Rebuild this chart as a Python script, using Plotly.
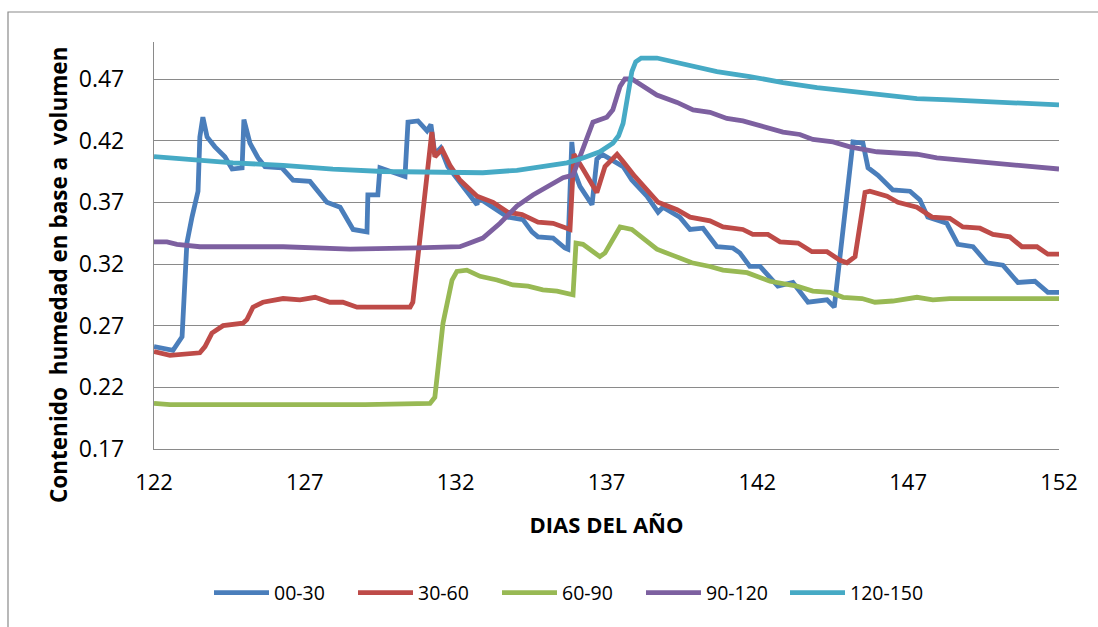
import plotly.graph_objects as go

# ---------------- data ----------------
x_0030 = [122.0, 122.63, 122.93, 123.09, 123.26, 123.46, 123.52, 123.62, 123.76, 124.02, 124.35, 124.59,
          124.92, 124.98, 125.18, 125.45, 125.68, 126.24, 126.61, 127.17, 127.73, 128.17, 128.60, 129.06,
          129.09, 129.42, 129.49, 130.32, 130.42, 130.75, 131.05, 131.18, 131.31, 131.50, 131.74, 132.14,
          132.71, 132.74, 133.24, 133.73, 134.23, 134.53, 134.73, 135.23, 135.62, 135.72, 135.85, 135.95,
          136.12, 136.52, 136.68, 136.85, 137.55, 137.84, 138.34, 138.71, 138.87, 139.43, 139.77, 140.20,
          140.66, 141.19, 141.42, 141.75, 142.09, 142.68, 143.18, 143.68, 144.31, 144.55, 145.17, 145.50,
          145.67, 146.00, 146.49, 147.06, 147.39, 147.65, 148.28, 148.65, 149.15, 149.61, 150.14, 150.64,
          151.20, 151.63, 152.0]
y_0030 = [0.253, 0.250, 0.261, 0.337, 0.358, 0.379, 0.423, 0.439, 0.423, 0.415, 0.407, 0.397,
          0.398, 0.437, 0.418, 0.406, 0.399, 0.398, 0.388, 0.387, 0.370, 0.366, 0.348, 0.346,
          0.376, 0.376, 0.398, 0.391, 0.435, 0.436, 0.428, 0.433, 0.409, 0.414, 0.399, 0.386,
          0.368, 0.374, 0.366, 0.358, 0.356, 0.346, 0.342, 0.341, 0.333, 0.332, 0.419, 0.394,
          0.383, 0.368, 0.405, 0.409, 0.399, 0.388, 0.375, 0.362, 0.366, 0.358, 0.348, 0.349,
          0.334, 0.333, 0.329, 0.318, 0.318, 0.302, 0.305, 0.289, 0.291, 0.285, 0.419, 0.418,
          0.398, 0.392, 0.380, 0.379, 0.372, 0.358, 0.353, 0.336, 0.334, 0.321, 0.319, 0.305,
          0.306, 0.297, 0.297]

x_3060 = [122.0, 122.53, 123.52, 123.69, 123.92, 124.29, 124.95, 125.08, 125.28, 125.61, 126.28, 126.84,
          127.34, 127.83, 128.26, 128.73, 129.59, 130.49, 130.58, 130.82, 131.05, 131.21, 131.31, 131.55,
          131.81, 132.14, 132.71, 133.24, 133.73, 134.20, 134.73, 135.23, 135.79, 135.92, 136.22, 136.68,
          136.95, 137.35, 137.55, 137.94, 138.71, 139.34, 139.77, 140.43, 140.86, 141.52, 141.85, 142.35,
          142.75, 143.35, 143.81, 144.31, 144.74, 144.97, 145.24, 145.57, 145.73, 146.30, 146.66, 147.29,
          147.79, 148.38, 148.81, 149.38, 149.81, 150.37, 150.77, 151.27, 151.63, 152.0]
y_3060 = [0.249, 0.246, 0.248, 0.253, 0.264, 0.270, 0.272, 0.275, 0.285, 0.289, 0.292, 0.291,
          0.293, 0.289, 0.289, 0.285, 0.285, 0.285, 0.289, 0.340, 0.388, 0.427, 0.407, 0.413,
          0.400, 0.388, 0.375, 0.370, 0.362, 0.360, 0.354, 0.353, 0.348, 0.409, 0.397, 0.378,
          0.399, 0.409, 0.403, 0.391, 0.370, 0.364, 0.358, 0.355, 0.350, 0.348, 0.344, 0.344,
          0.338, 0.337, 0.330, 0.330, 0.323, 0.321, 0.326, 0.378, 0.379, 0.375, 0.370, 0.366,
          0.358, 0.357, 0.350, 0.349, 0.344, 0.342, 0.334, 0.334, 0.328, 0.328]

x_6090 = [122.0, 122.53, 123.5, 125.0, 127.0, 129.0, 131.15, 131.31, 131.58, 131.88, 132.04, 132.37,
          132.81, 133.37, 133.90, 134.40, 134.89, 135.36, 135.89, 135.99, 136.22, 136.78, 136.95, 137.45,
          137.84, 138.67, 139.20, 139.83, 140.43, 140.86, 141.66, 142.42, 143.31, 143.84, 144.41, 144.84,
          145.47, 145.90, 146.49, 147.29, 147.82, 148.38, 152.0]
y_6090 = [0.207, 0.206, 0.206, 0.206, 0.206, 0.206, 0.207, 0.212, 0.272, 0.307, 0.314, 0.315,
          0.310, 0.307, 0.303, 0.302, 0.299, 0.298, 0.295, 0.337, 0.336, 0.326, 0.329, 0.350,
          0.348, 0.332, 0.327, 0.321, 0.318, 0.315, 0.313, 0.306, 0.302, 0.298, 0.297, 0.293,
          0.292, 0.289, 0.290, 0.293, 0.291, 0.292, 0.292]

x_90120 = [122.0, 122.43, 122.76, 123.52, 126.28, 128.50, 130.72, 132.14, 132.47, 132.90, 133.47, 134.03,
           134.56, 135.13, 135.56, 135.89, 136.05, 136.35, 136.55, 137.01, 137.21, 137.45, 137.61, 137.84,
           138.21, 138.67, 139.34, 139.87, 140.43, 140.99, 141.52, 142.32, 142.85, 143.41, 143.84, 144.51,
           145.07, 145.96, 146.49, 147.29, 147.95, 148.81, 149.71, 150.47, 151.13, 152.0]
y_90120 = [0.338, 0.338, 0.336, 0.334, 0.334, 0.332, 0.333, 0.334, 0.337, 0.341, 0.353, 0.367,
           0.376, 0.384, 0.390, 0.392, 0.402, 0.423, 0.435, 0.439, 0.445, 0.464, 0.470, 0.470,
           0.464, 0.457, 0.451, 0.445, 0.443, 0.438, 0.436, 0.431, 0.427, 0.425, 0.421, 0.419,
           0.415, 0.411, 0.410, 0.409, 0.406, 0.404, 0.402, 0.400, 0.399, 0.397]

x_120150 = [122.0, 122.96, 124.62, 126.28, 127.93, 129.59, 132.14, 132.90, 134.03, 134.89, 135.69, 136.22,
            136.78, 137.21, 137.40, 137.55, 137.65, 137.74, 137.84, 137.97, 138.15, 138.67, 139.53, 140.66,
            141.75, 142.85, 143.98, 145.07, 146.16, 147.29, 148.38, 149.48, 150.60, 152.0]
y_120150 = [0.407, 0.405, 0.402, 0.400, 0.397, 0.395, 0.394, 0.394, 0.396, 0.399, 0.402, 0.406,
            0.411, 0.418, 0.424, 0.434, 0.448, 0.463, 0.476, 0.484, 0.487, 0.487, 0.482, 0.476,
            0.472, 0.467, 0.463, 0.460, 0.457, 0.454, 0.453, 0.452, 0.451, 0.449]

series_names = ["00-30", "30-60", "60-90", "90-120", "120-150"]
series_x = [x_0030, x_3060, x_6090, x_90120, x_120150]
series_y = [y_0030, y_3060, y_6090, y_90120, y_120150]
colors = ["#4A7EBB", "#BE4B48", "#98B954", "#7D60A0", "#46AAC5"]

x_ticks = [122, 127, 132, 137, 142, 147, 152]
y_ticks = [0.17, 0.22, 0.27, 0.32, 0.37, 0.42, 0.47]
y_tick_text = ["0.17", "0.22", "0.27", "0.32", "0.37", "0.42", "0.47"]

# ---------------- figure ----------------
W, H = 1098, 627
FONT = "Open Sans"
GRID = "#8A8A8A"

fig = go.Figure()
for name, xs, ys, c in zip(series_names, series_x, series_y, colors):
    fig.add_trace(go.Scatter(x=xs, y=ys, mode="lines", name=name,
                             line=dict(color=c, width=4.8)))

fig.update_layout(
    width=W, height=H,
    margin=dict(l=0, r=0, t=0, b=0, autoexpand=False),
    paper_bgcolor="white", plot_bgcolor="white",
    font=dict(family=FONT, color="black"),
    showlegend=True,
    legend=dict(orientation="h", x=209 / W, xanchor="left", y=(H - 593) / H, yanchor="middle",
                font=dict(size=19.5, family=FONT, color="black"),
                entrywidth=74, entrywidthmode="pixels", itemwidth=55,
                bgcolor="rgba(0,0,0,0)", traceorder="normal"),
    xaxis=dict(domain=[154 / W, 1059 / W], range=[122, 152], tickmode="array", tickvals=x_ticks,
               automargin=False,
               showgrid=False, zeroline=False, showline=True, linecolor=GRID, linewidth=1.3,
               ticks="", ticklabelstandoff=13, tickfont=dict(size=22, family=FONT),
               title=dict(text="<b>DIAS DEL AÑO</b>", font=dict(size=22, family=FONT), standoff=23)),
    yaxis=dict(domain=[(H - 449) / H, (H - 42) / H], range=[0.17, 0.50], tickmode="array",
               tickvals=y_ticks, ticktext=y_tick_text, automargin=False,
               showgrid=True, gridcolor=GRID, gridwidth=1.3, zeroline=False,
               showline=True, linecolor=GRID, linewidth=1.3,
               ticks="", ticklabelstandoff=24, tickfont=dict(size=23, family=FONT)),
    shapes=[dict(type="rect", xref="paper", yref="paper", x0=8 / W, x1=1.02, y0=-0.02, y1=(H - 12) / H,
                 line=dict(color=GRID, width=1.2), fillcolor="rgba(0,0,0,0)", layer="below")],
    annotations=[dict(text="<b>Contenido \u00a0humedad en base a \u00a0volumen</b>", xref="paper", yref="paper",
                      x=58 / W, y=(H - 275) / H, xanchor="center", yanchor="middle", textangle=-90,
                      showarrow=False, font=dict(size=22.5, family=FONT, color="black"))],
)

fig.write_html("out.html")
